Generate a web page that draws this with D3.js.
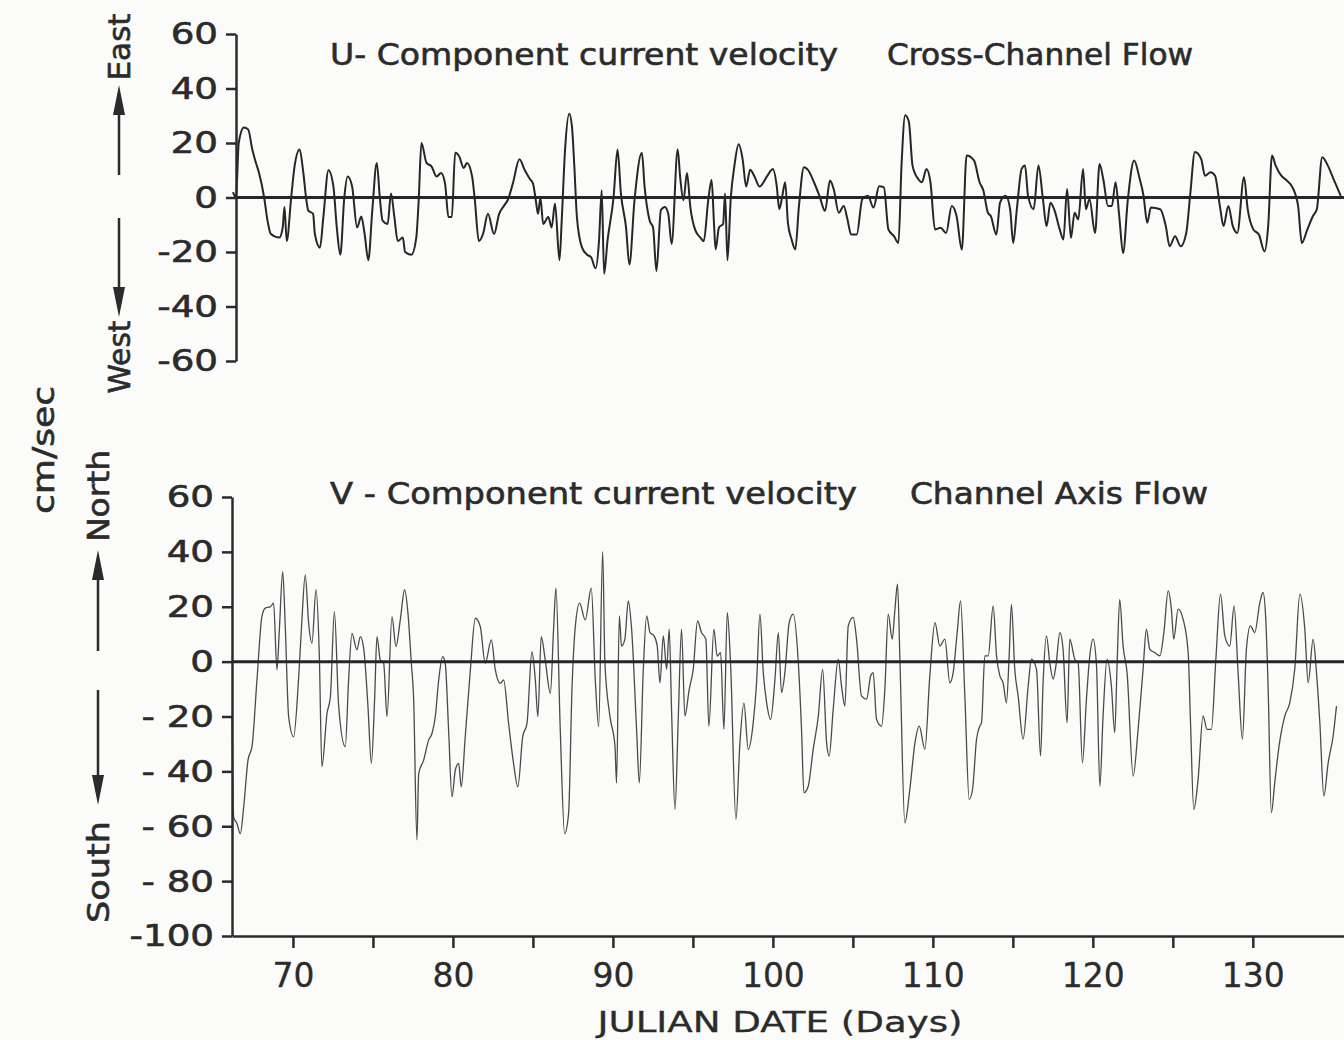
<!DOCTYPE html>
<html lang="en">
<head>
<meta charset="utf-8">
<script src="https://d3js.org/d3.v7.min.js"></script>
<style>
  body { margin: 0; background: #fbfbf9; }
  svg text { font-family: "DejaVu Sans", sans-serif; fill: #2b2b2b; stroke: #2b2b2b; stroke-width: 0.6px; }
  .series { fill: none; stroke-linejoin: round; }
  .axis path, .axis line { stroke: #2b2b2b; stroke-width: 2.5px; }
  .axis text { fill: #2b2b2b; }
</style>
</head>
<body>
<svg id="chart" width="1344" height="1040"></svg>
<script>
// U-component (cross-channel, east +), day / cm per sec
let uDays = [66.25, 66.44, 66.61, 66.93, 67.20, 67.46, 67.67, 67.88, 68.20, 68.41, 68.62,
  69.15, 69.36, 69.47, 69.61, 69.89, 70.10, 70.42, 70.63, 70.84, 70.95,
  71.26, 71.37, 71.69, 71.90, 72.22, 72.53, 72.74, 72.96, 73.21, 73.42,
  73.70, 74.01, 74.27, 74.48, 74.71, 74.96, 75.24, 75.43, 75.60, 75.92,
  76.13, 76.34, 76.55, 76.87, 77.01, 77.40, 77.71, 77.86, 78.03, 78.35,
  78.66, 78.98, 79.26, 79.51, 79.72, 79.93, 80.14, 80.40, 80.67, 80.88,
  81.20, 81.37, 81.62, 81.88, 82.19, 82.57, 82.89, 83.21, 83.42, 83.74,
  84.16, 84.48, 84.79, 85.01, 85.18, 85.32, 85.47, 85.64, 85.96, 86.17,
  86.38, 86.66, 86.80, 87.01, 87.27, 87.44, 87.59, 87.75, 88.07, 88.39,
  88.64, 88.92, 89.13, 89.30, 89.45, 89.66, 90.04, 90.29, 90.50, 90.82,
  91.03, 91.35, 91.81, 91.98, 92.30, 92.51, 92.72, 93.00, 93.25, 93.46,
  93.67, 94.05, 94.20, 94.41, 94.63, 94.84, 95.15, 95.47, 95.68, 95.96,
  96.17, 96.32, 96.42, 96.63, 96.89, 97.01, 97.16, 97.37, 97.59, 97.86,
  98.11, 98.33, 98.58, 98.85, 99.17,
  99.66, 100.00, 100.24, 100.40, 100.59, 100.77, 100.94, 101.17, 101.40, 101.63,
  101.94, 102.22, 102.57, 102.91, 103.26, 103.57, 103.80, 104.12, 104.43, 104.66,
  104.89, 105.24, 105.59, 105.94, 106.29, 106.64, 106.94, 107.22, 107.57, 107.85,
  108.04, 108.27, 108.50, 108.73, 109.08, 109.32, 109.60, 109.85, 110.13, 110.48,
  110.83, 111.18, 111.48, 111.81, 112.11, 112.57, 112.92, 113.16, 113.44, 113.62,
  113.97, 114.20, 114.55, 114.83, 115.02, 115.25, 115.55, 115.76, 115.95, 116.30,
  116.60, 116.88, 117.11, 117.35, 117.58, 117.93, 118.16, 118.39, 118.63, 118.86,
  119.09, 119.39, 119.56, 119.79, 120.14, 120.42, 120.65, 120.95, 121.19, 121.42,
  121.65, 121.89, 122.19, 122.58, 122.93, 123.17, 123.40, 123.63, 124.21, 124.56,
  124.80, 125.14, 125.49, 125.84, 126.08, 126.38, 126.77, 127.01, 127.36, 127.64,
  127.94, 128.17, 128.47, 128.75, 129.03, 129.45, 129.68, 130.03, 130.38, 130.73,
  130.96, 131.20, 131.43, 131.78, 132.13, 132.48, 132.83, 133.06, 133.41, 133.76,
  134.00, 134.34, 134.69, 135.04, 135.50]
let uVals = [2, 0, 20, 25.7, 25, 17.6, 13, 9, 0, -8.5, -13.4,
  -14.7, -11, -3.5, -16, 0, 11.4, 17.6, 10, -1, -4.7,
  -6, -13.4, -18.4, -7.2, 10, 4, -11, -21, 0, 7.7,
  4, -11, -7, -13.4, -23, -4.7, 12.7, 0, -8.5, -9.7,
  1.5, -7.2, -16, -14.7, -20, -21, -14.7, -1, 20, 12.7,
  11.4, 7.7, 9, 5, -7.2, -7.2, 16.4, 15, 10.8, 12.7,
  7.7, -1, -16, -13.4, -6, -13.4, -6, -2.9, -1, 5,
  14, 10.2, 7, 5, -1, -6, 0, -9.7, -7.2, -11,
  -2.2, -23, -8.5, 17.6, 30.7, 26, 11.4, -7.2, -18.4, -21,
  -22, -26, -16, 2.7, -28, -16, 0, 17.6, 1.5, -11,
  -24.6, -1, 16.4, 4, -8.5, -11, -27, -4.7, -3.5, -6,
  -17, 17.6, 7.7, -1, 9, -3.5, -12, -14.7, -16, -1,
  6.5, -9.7, -19, -11, -9.7, 1.5, -23, 0, 11.4, 19.5,
  14, 4, 10.2, 7.7, 4,
  8, 10.5, 4.3, -4.3, 0.6, 5.6, -9.3, -15.4, -19.1, -3.1,
  11.1, 9.9, 5.6, 0.6, -4.9, 6.2, 3.1, -5.6, -3.1, -8,
  -13.6, -13.6, -0.6, 0.6, -3.7, 4.1, 3.7, -11.7, -14.2, -16.7,
  11.7, 30.2, 27.8, 11.7, 6.8, 5.6, 10.5, 5.6, -11.7, -11.1,
  -13, -3.1, -6.8, -19.1, 15.4, 13.6, 5.6, 2.5, -5.6, -6.8,
  -13.6, -1.9, 0.6, -4.3, -16.7, -4.3, 10.5, 11.7, 0.6, -4.3,
  11.7, -0.6, -10.5, -1.9, -4.3, -11.7, -15.4, 3.1, -14.8, -5.6,
  -8, 10.5, -4.3, -0.6, -13, 12.3, 6.8, -3.1, -3.1, 5.6,
  -6.8, -20.4, -0.6, 13.6, 6.8, 0.6, -9.3, -3.7, -4.3, -10.5,
  -17.9, -14.2, -17.9, -13, 0.6, 16.7, 14.2, 8, 9.3, 8,
  -3.1, -10.5, -3.1, -10.5, -13, 7.4, -4.3, -11.7, -13.6, -19.8,
  -10.5, 15.4, 11.7, 8, 6.2, 3.7, -3.1, -16.7, -11.7, -6.8,
  -4.3, 14.8, 11.7, 6.8, 0.6]

// V-component (channel axis, north +)
let vDays = [66.19, 66.29, 66.50, 66.71, 66.92, 67.19, 67.44, 67.75, 68.06, 68.27,
  68.59, 68.79, 69.00, 69.15, 69.36, 69.52, 69.73, 70.04, 70.36, 70.56,
  70.77, 70.98, 71.19, 71.44, 71.65, 71.81, 72.13, 72.34, 72.59, 72.86,
  73.27, 73.48, 73.69, 74.00, 74.21, 74.42, 74.69, 74.90, 75.11, 75.25,
  75.46, 75.67, 75.88, 76.19, 76.44, 76.71, 76.98, 77.19, 77.40, 77.54,
  77.75, 77.86, 78.17, 78.48, 78.69, 78.90, 79.11, 79.36, 79.52, 79.73,
  79.94, 80.15, 80.36, 80.52, 80.77, 81.09, 81.40, 81.71, 82.02, 82.40,
  82.65, 82.96, 83.17, 83.48, 83.79, 84.06, 84.36, 84.63, 84.94, 85.15,
  85.31, 85.52, 85.77, 86.09, 86.29, 86.44, 86.71, 86.98, 87.23, 87.44,
  87.65, 87.92, 88.27, 88.65, 88.90, 89.11, 89.36,
  89.50, 89.81, 90.13, 90.23, 90.40, 90.54, 90.75, 90.96, 91.17, 91.48,
  91.65, 91.90, 92.11, 92.32, 92.57, 92.77, 92.94, 93.15, 93.36, 93.52,
  93.67, 93.88, 94.09, 94.29, 94.50, 94.77, 95.02, 95.29, 95.54, 95.81,
  96.00, 96.31, 96.52, 96.73, 96.94, 97.15, 97.36, 97.69, 97.94, 98.19,
  98.46, 98.77, 98.98, 99.19, 99.40, 99.61, 99.86, 100.13, 100.34, 100.54,
  100.75, 101.02, 101.27, 101.59, 101.79, 101.94, 102.21, 102.52, 102.84, 103.11,
  103.36, 103.52, 103.77, 104.09, 104.29, 104.50, 104.71, 105.02, 105.23, 105.54,
  105.86, 106.11, 106.27, 106.48, 106.79, 107.00, 107.21, 107.46, 107.63, 107.79,
  107.94, 108.25, 108.56, 108.88, 109.15, 109.50, 109.81, 110.13, 110.44, 110.75,
  111.06, 111.27, 111.52, 111.73, 112.00, 112.27, 112.48, 112.73, 112.94,
  113.04, 113.25, 113.46, 113.77, 113.98, 114.19, 114.39, 114.60, 114.77, 114.91,
  115.12, 115.33, 115.64, 115.96, 116.16, 116.48, 116.73, 116.89, 117.10, 117.31,
  117.52, 117.69, 117.94, 118.14, 118.39, 118.56, 118.87, 119.08, 119.35, 119.60,
  119.81, 120.02, 120.23, 120.44, 120.64, 120.89, 121.16, 121.37, 121.52, 121.68,
  121.89, 122.14, 122.52, 122.83, 123.14, 123.35, 123.56, 123.87, 124.19, 124.44,
  124.71, 124.91, 125.06, 125.33, 125.64, 125.96, 126.10, 126.31, 126.58, 126.89,
  127.14, 127.41, 127.69, 127.98, 128.25, 128.56, 128.83, 129.08, 129.35, 129.60,
  129.85, 130.12, 130.44, 130.64, 130.81, 130.96, 131.16, 131.37, 131.64, 132.00,
  132.31, 132.62, 132.94, 133.25, 133.46, 133.77, 133.98, 134.19, 134.44, 134.71,
  135.02, 135.23]
let vVals = [-20, -56.6, -59, -62.7, -53, -35.9, -31, -6.7, 16.4, 19.5,
  20, 21.3, -3, 11.6, 32.8, 12.8, -20, -27.4, -5.5, 15.2,
  31.6, 14, 6.7, 26.2, 1.8, -38.3, -18.9, -12.8, 18.2, -16.4,
  -31, -6.7, 10.3, 4.3, 9.1, 4.9, -16.4, -37.1, -12.8, 9.1,
  0.6, -0.6, -20, 16.4, 5.5, 15.2, 26.2, 17.6, -0.6, -12.8,
  -65, -40.8, -35.9, -28.6, -26.2, -20, -6.7, 1.8, -0.6, -25,
  -49.3, -39.5, -37.1, -45.6, -27.4, -3, 15.8, 12.8, -0.6, 7.9,
  -3, -7.9, -6.7, -22.5, -37.1, -45.6, -27.4, -22.5, 3.6, -6.7,
  -20, 9.1, 0.6, -11.6, 11.6, 26.8, -25, -62.7, -55.4, -10.3,
  12.8, 21.3, 15.2, 26.8, -6.7, -23.7, 40.1,
  -0.4, -19.8, -30.8, -44.2, 16.7, 5.7, 8.2, 22.1, 11.8, -24.7,
  -44.2, -2.8, 16.7, 10.6, 9.4, 5.7, -7.7, 9.4, -2.8, 11.8,
  -18.4, -53.9, -19.8, 11.8, -19.8, -10.1, -2.8, 14.8, 10.6, 8.2,
  -23.6, 11.8, 2, 3.3, -24.7, 17.9, -1.6, -57.5, -29.6, -15.1,
  -32, -22.3, -7.7, 17.3, -4, -15, -21, -6.4, 10.6, -11.3,
  -4, 14.2, 17.3, -0.4, -24.7, -47.8, -45.4, -32, -19.8, -2.8,
  -29.6, -34.4, -17.4, 0.9, -8.9, -16.2, 13, 16.1, 8.2, -12.5,
  -13.7, -5.2, -4, -21, -23.5, -10.1, 17.3, 8.2, 19.1, 28.2,
  0.9, -58.8, -46.6, -29.6, -23.5, -32, -5.2, 14.2, 5.7, 8.2,
  -7.7, -4, 10.6, 22.1, -12.5, -50.2, -46.6, -28.3, -23.5,
  -22.3, 2.1, 2.1, 20.3, 2.1, -5.2, -7.7, -15, 2.1, 20.9,
  -2.8, -12.5, -28.3, -8.9, 0.9, -2.8, -34.4, -7.7, 9.4, -0.4,
  -6.4, -1.6, 10.6, 4.5, -22.3, 8.2, 0.9, -0.4, -36.9, -13.7,
  2.1, 8.2, -1.6, -45.4, -19.8, 0.9, -8.9, -25.9, -0.4, 22.7,
  5.7, -4, -41.7, -24.7, -2.8, 11.8, 4.5, 3.3, 2.1, 10.6,
  25.8, 19.1, 8.2, 19.1, 15.5, 3.3, -21, -53.9, -42.9, -19.8,
  -24.7, -24.7, 0.9, 24.6, 9.4, 5.7, 20.3, -4, -28.3, 4.5,
  13, 10.6, 21.5, 25.2, 15.5, -10.1, -55.1, -44.2, -30.8, -19.8,
  -15, -2.8, 24.6, 11.8, -7.7, 8.2, -4, -22.3, -49, -36.9,
  -27.1, -16.2]

let uTicks = [60, 40, 20, 0, -20, -40, -60]
let vTicks = [60, 40, 20, 0, -20, -40, -60, -80, -100]
let dayTicks = [70, 75, 80, 85, 90, 95, 100, 105, 110, 115, 120, 125, 130]

let svg = d3.select("#chart")
let x = d3.scaleLinear().domain([66.19, 135.7]).range([232, 1344])
let yU = d3.scaleLinear().domain([-60, 60]).range([361, 34])
let yV = d3.scaleLinear().domain([-100, 60]).range([936, 497])

// widen text a bit, the original lettering is broad
let stretch = (sel, k) => sel.each(function () {
  let w = this.getComputedTextLength()
  d3.select(this).attr("textLength", w * k).attr("lengthAdjust", "spacingAndGlyphs")
})

// traces
let lineU = d3.line().curve(d3.curveMonotoneX).x(d => x(d[0])).y(d => yU(d[1]))
let lineV = d3.line().curve(d3.curveMonotoneX).x(d => x(d[0])).y(d => yV(d[1]))
svg.append("path").classed("series", true).attr("d", lineU(d3.zip(uDays, uVals)))
  .attr("stroke", "#262626").attr("stroke-width", 2)
svg.append("path").classed("series", true).attr("d", lineV(d3.zip(vDays, vVals)))
  .attr("stroke", "#4a4a4a").attr("stroke-width", 1.3)

// zero lines
svg.append("line").attr("x1", 235).attr("x2", 1344).attr("y1", yU(0)).attr("y2", yU(0))
  .attr("stroke", "#262626").attr("stroke-width", 3)
svg.append("line").attr("x1", 232).attr("x2", 1344).attr("y1", yV(0)).attr("y2", yV(0))
  .attr("stroke", "#262626").attr("stroke-width", 3)

// y axes
let axU = svg.append("g").classed("axis", true).attr("transform", "translate(236,0)")
  .call(d3.axisLeft(yU).tickValues(uTicks).tickSize(10).tickSizeOuter(0).tickPadding(8)
    .tickFormat(d => d < 0 ? "-" + (-d) : d))
axU.selectAll("text").attr("font-size", 31).attr("font-family", "DejaVu Sans").call(stretch, 1.2)

let axV = svg.append("g").classed("axis", true).attr("transform", "translate(232,0)")
  .call(d3.axisLeft(yV).tickValues(vTicks).tickSize(10).tickSizeOuter(0).tickPadding(8)
    .tickFormat(d => d < 0 ? (d == -100 ? "-100" : "- " + (-d)) : d))
axV.selectAll("text").attr("font-size", 31).attr("font-family", "DejaVu Sans").call(stretch, 1.2)

// x axis
let axX = svg.append("g").classed("axis", true).attr("transform", "translate(0,936)")
  .call(d3.axisBottom(x).tickValues(dayTicks).tickSize(12).tickSizeOuter(0).tickPadding(16)
    .tickFormat(d => d % 10 == 0 ? d : ""))
axX.selectAll("text").attr("font-size", 33).attr("font-family", "DejaVu Sans")
  .style("stroke-width", "0.3px")

svg.append("text").attr("x", 780).attr("y", 1032).attr("text-anchor", "middle")
  .attr("font-size", 28).attr("textLength", 365).attr("lengthAdjust", "spacingAndGlyphs")
  .style("stroke-width", "0.3px").text("JULIAN DATE (Days)")

// panel titles
let title = (t, x0, y0, len) => svg.append("text").attr("x", x0).attr("y", y0)
  .attr("font-size", 30).attr("textLength", len).attr("lengthAdjust", "spacingAndGlyphs").text(t)
title("U- Component current velocity", 330, 65, 508)
title("Cross-Channel Flow", 887, 65, 306)
title("V - Component current velocity", 330, 504, 527)
title("Channel Axis Flow", 910, 504, 298)

// sideways labels and direction arrows
let side = (t, x0, y0, len) => svg.append("text").attr("transform", `translate(${x0},${y0}) rotate(-90)`)
  .attr("text-anchor", "middle").attr("font-size", 30)
  .attr("textLength", len).attr("lengthAdjust", "spacingAndGlyphs").text(t)
side("cm/sec", 54, 450, 128)
side("East", 130, 47, 67)
side("West", 130, 357, 73)
side("North", 109, 496, 92)
side("South", 109, 872, 102)

let arrow = (ax, from, tip) => {
  let dir = tip < from ? 1 : -1
  let base = tip + dir * 30
  svg.append("line").attr("x1", ax).attr("x2", ax).attr("y1", from).attr("y2", base)
    .attr("stroke", "#2b2b2b").attr("stroke-width", 2.5)
  svg.append("path").attr("d", `M${ax},${tip} L${ax - 6},${base} L${ax + 6},${base} Z`).attr("fill", "#2b2b2b")
}
arrow(119, 175, 85)
arrow(119, 218, 317)
arrow(98, 651, 550)
arrow(98, 690, 805)
</script>
</body>
</html>
